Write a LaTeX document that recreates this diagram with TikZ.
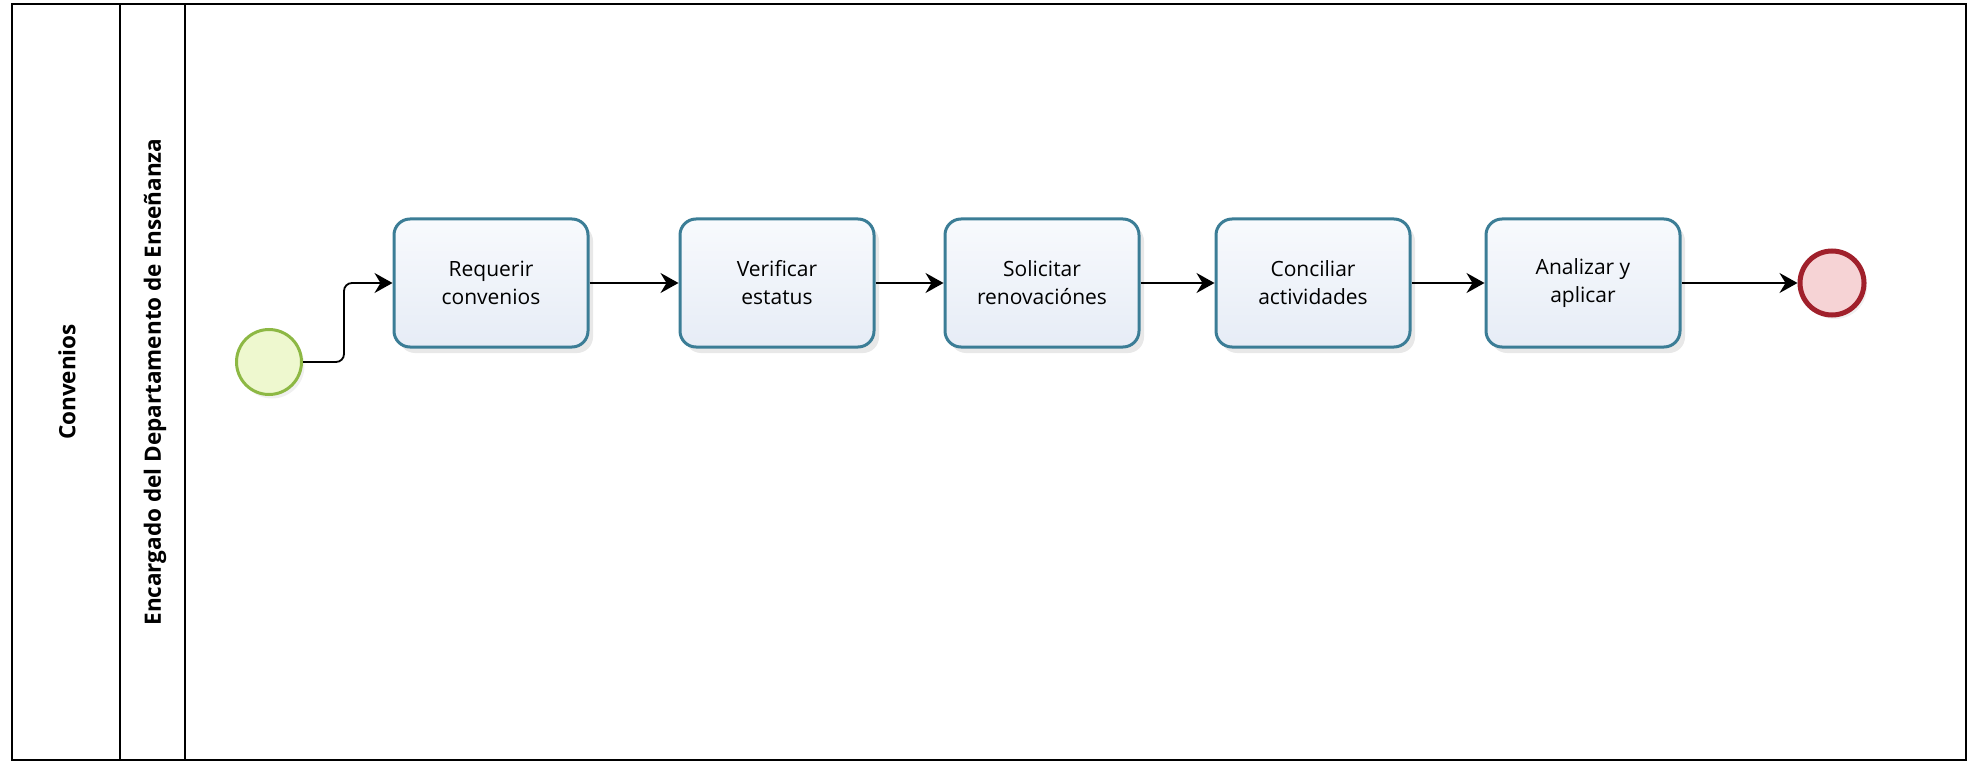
\documentclass[tikz,border=0pt]{standalone}
\usepackage{fontspec}
\setmainfont{Open Sans}
\usetikzlibrary{arrows.meta,shadows}
\definecolor{taskline}{HTML}{3B7D96}
\definecolor{tasktop}{HTML}{F8FAFD}
\definecolor{taskbot}{HTML}{E6ECF6}
\definecolor{startline}{HTML}{8DB844}
\definecolor{startfill}{HTML}{EEF8CF}
\definecolor{endline}{HTML}{A0202B}
\definecolor{endfill}{HTML}{F6D3D5}
\tikzset{
  lane/.style={draw=black, line width=1.6pt},
  lanelabel/.style={rotate=90, font=\fontsize{22.5}{26}\selectfont\bfseries, inner sep=0pt},
  task/.style={draw=taskline, line width=3pt, rounded corners=16pt,
    top color=tasktop, bottom color=taskbot,
    minimum width=194pt, minimum height=128pt, align=center,
    font=\fontsize{21}{28}\selectfont,
    drop shadow={opacity=0.18, shadow xshift=5pt, shadow yshift=-6pt}},
  startev/.style={circle, draw=startline, fill=startfill, line width=3pt,
    minimum size=65pt, inner sep=0pt,
    drop shadow={opacity=0.12, shadow xshift=3pt, shadow yshift=-4pt}},
  endev/.style={circle, draw=endline, fill=endfill, line width=5pt,
    minimum size=64pt, inner sep=0pt,
    drop shadow={opacity=0.12, shadow xshift=3pt, shadow yshift=-4pt}},
  flow/.style={draw=black, line width=1.8pt,
    -{Stealth[length=18pt,width=20pt,inset=6pt]}},
}
\begin{document}
\begin{tikzpicture}[x=1pt,y=-1pt]
  \useasboundingbox (0,0) rectangle (1970,762);
  % pool and lane frames
  \draw[lane] (12,4) rectangle (1966,760);
  \draw[lane] (120,4) -- (120,760);
  \draw[lane, line width=1.3pt] (185,4) -- (185,760);
  \node[lanelabel] (pool) at (67,382) {Convenios};
  \node[lanelabel] (lane) at (155,382) {Encargado del Departamento de Enseñanza};

  % events and tasks
  \node[startev] (start) at (269,362) {};
  \node[task] (t1) at (491,283) {Requerir\\convenios};
  \node[task] (t2) at (777,283) {Verificar\\estatus};
  \node[task] (t3) at (1042,283) {Solicitar\\renovaciónes};
  \node[task] (t4) at (1313,283) {Conciliar\\actividades};
  \node[task] (t5) at (1583,283) {Analizar y\\aplicar};
  \node[endev] (end) at (1832,283) {};

  % sequence flows
  \draw[flow, rounded corners=8pt] (start.east) -- ++(41,0) |- (t1.west);
  \draw[flow] (t1.east) -- (t2.west);
  \draw[flow] (t2.east) -- (t3.west);
  \draw[flow] (t3.east) -- (t4.west);
  \draw[flow] (t4.east) -- (t5.west);
  \draw[flow] (t5.east) -- (end.west);
\end{tikzpicture}
\end{document}
